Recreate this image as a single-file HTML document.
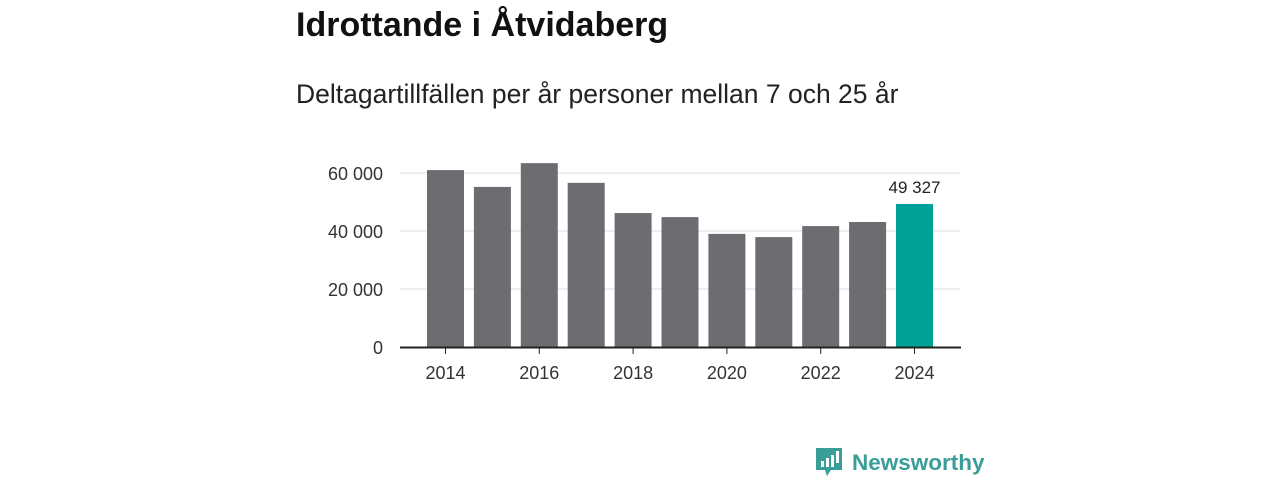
<!DOCTYPE html>
<html><head><meta charset="utf-8"><style>
body{margin:0;width:1280px;height:480px;background:#fff;font-family:"Liberation Sans",sans-serif;overflow:hidden;position:relative}
h1{position:absolute;left:296px;top:6px;margin:0;font-size:34px;font-weight:bold;color:#111}
.sub{position:absolute;left:296px;top:79px;font-size:26.5px;color:#222}
</style></head><body>
<h1>Idrottande i Åtvidaberg</h1>
<div class="sub">Deltagartillfällen per år personer mellan 7 och 25 år</div>
<svg id="c" width="1280" height="480" style="position:absolute;left:0;top:0"></svg>
<div style="position:absolute;left:815px;top:446px;display:flex;align-items:center">
<svg width="28" height="34"><path d="M1 2h26v22H16l-4 6-2-6H1z" fill="#3a9e98"/><rect x="6" y="15" width="3" height="6" fill="#fff"/><rect x="11" y="12" width="3" height="9" fill="#fff"/><rect x="16" y="9" width="3" height="12" fill="#fff"/><rect x="21" y="5" width="3" height="12" fill="#fff"/></svg>
<span style="font-size:22.5px;font-weight:bold;color:#3a9e98;margin-left:9px">Newsworthy</span></div>
<script>
const years=[2014,2015,2016,2017,2018,2019,2020,2021,2022,2023,2024];
const values=[61000,55200,63400,56600,46200,44800,39000,37900,41700,43100,49327];
const ticks=[0,20000,40000,60000];
const xLabels=[2014,2016,2018,2020,2022,2024];
const ns="http://www.w3.org/2000/svg",svg=document.getElementById('c');
const y=v=>347-v*58/20000, x=i=>427+i*46.9;
const fmt=v=>String(v).replace(/\B(?=(\d{3})+(?!\d))/g,' ');
function el(t,a,txt){const e=document.createElementNS(ns,t);for(const k in a)e.setAttribute(k,a[k]);if(txt!=null)e.textContent=txt;svg.appendChild(e);return e;}
ticks.forEach(t=>{
 if(t>0){const g=el('line',{x1:400,x2:960,y1:y(t),y2:y(t),stroke:'#ddd'});
 
 }
 const l=el('text',{x:383,y:y(t)+7,'text-anchor':'end','font-size':18,fill:'#333','font-family':'Liberation Sans'},fmt(t));
 
 
});
values.forEach((v,i)=>{
 const last=i===values.length-1;
 const b=el('rect',{x:x(i),y:y(v),width:37,height:347-y(v),fill:last?'#00a196':'#6d6c71'});
 
 
 if(last){const t=el('text',{x:x(i)+18.5,y:y(v)-11,'text-anchor':'middle','font-size':17,fill:'#222','font-family':'Liberation Sans'},fmt(v));
 
 }
});
const ax=el('line',{x1:400,x2:961,y1:347.5,y2:347.5,stroke:'#222','stroke-width':2});


xLabels.forEach(yr=>{
 const i=years.indexOf(yr),cx=x(i)+18.5;
 const tk=el('line',{x1:cx,x2:cx,y1:348,y2:354,stroke:'#222'});
 
 
 const t=el('text',{x:cx,y:379,'text-anchor':'middle','font-size':18,fill:'#333','font-family':'Liberation Sans'},yr);
 
 
});
</script>
</body></html>
